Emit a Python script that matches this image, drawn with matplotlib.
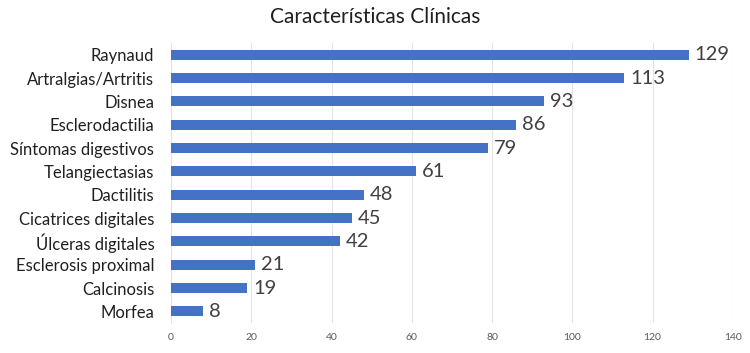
import numpy as np
import matplotlib.pyplot as plt

categories = ["Raynaud", "Artralgias/Artritis", "Disnea", "Esclerodactilia",
              "Síntomas digestivos", "Telangiectasias", "Dactilitis",
              "Cicatrices digitales", "Úlceras digitales", "Esclerosis proximal",
              "Calcinosis", "Morfea"]
values = [129, 113, 93, 86, 79, 61, 48, 45, 42, 21, 19, 8]
xticks = [0, 20, 40, 60, 80, 100, 120, 140]

plt.rcParams['font.family'] = ['Lato', 'DejaVu Sans']

fig = plt.figure(figsize=(7.5, 3.53), dpi=100)
ax = fig.add_axes([0.228, 0.085, 0.749, 0.793])

pos = np.arange(len(categories))
ax.barh(pos, values, height=0.43, color='#4472c4', zorder=3)
for p, v in zip(pos, values):
    ax.text(v + 1.5, p, str(v), va='center', ha='left', fontsize=14.5,
            color='#404040')

ax.set_ylim(len(categories) - 0.5, -0.5)
ax.set_yticks(pos)
ax.set_yticklabels(categories, fontsize=12, color='#202020')
ax.set_xlim(0, 140)
ax.set_xticks(xticks)
ax.set_xticklabels([str(t) for t in xticks], fontsize=7.5, color='#595959')
ax.tick_params(axis='both', length=0)
ax.tick_params(axis='x', pad=7)
ax.tick_params(axis='y', pad=12)
ax.grid(axis='x', color='#e4e4e4', linewidth=0.8, zorder=0)
for s in ['top', 'right', 'bottom']:
    ax.spines[s].set_visible(False)
ax.spines['left'].set_color('#e4e4e4')

fig.suptitle("Características Clínicas", fontsize=15, y=0.98, x=0.5,
             color='#202020')

fig.savefig("out.png", dpi=100)
